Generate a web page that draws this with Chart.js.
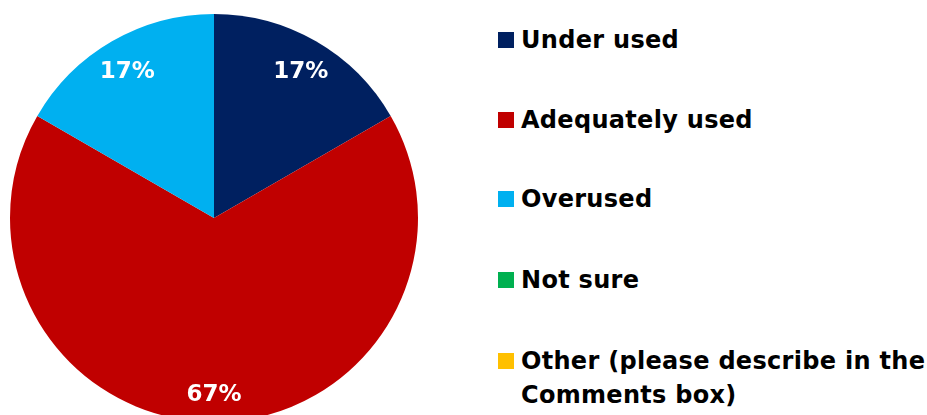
<!DOCTYPE html>
<html>
<head>
<meta charset="utf-8">
<script src="https://cdn.jsdelivr.net/npm/chart.js@4"></script>
<style>
  html, body { margin: 0; padding: 0; width: 927px; height: 415px; overflow: hidden; background: #fff; }
  #pieBox { position: absolute; left: 0; top: 0; width: 428px; height: 436px; }
  #legend { position: absolute; left: 498px; top: 0; font-family: "DejaVu Sans", sans-serif; font-weight: bold; font-size: 24px; letter-spacing: 0.3px; color: #000; }
  .item { position: absolute; left: 0; width: 429px; display: flex; align-items: flex-start; line-height: 34px; }
  .box { width: 16px; height: 16px; margin-top: 9px; margin-right: 7px; flex: none; }
</style>
</head>
<body>
<div id="pieBox"><canvas id="chart"></canvas></div>
<div id="legend"></div>
<script>
const categories = ['Under used', 'Adequately used', 'Overused', 'Not sure', 'Other (please describe in the Comments box)'];
const percents = [16.67, 66.67, 16.67, 0, 0];
const colors = ['#002060', '#C00000', '#00B0F0', '#00B050', '#FFC000'];
const legendTops = [23, 103, 182, 263, 344];

document.addEventListener('DOMContentLoaded', function () {
  let legend = document.getElementById('legend');
  categories.forEach((name, i) => {
    let item = document.createElement('div');
    item.className = 'item';
    item.style.top = legendTops[i] + 'px';
    let box = document.createElement('div');
    box.className = 'box';
    box.style.background = colors[i];
    let text = document.createElement('div');
    text.textContent = name;
    item.appendChild(box);
    item.appendChild(text);
    legend.appendChild(item);
  });

  const sliceLabels = {
    id: 'sliceLabels',
    afterDatasetsDraw(chart) {
      let ctx = chart.ctx;
      let meta = chart.getDatasetMeta(0);
      ctx.save();
      ctx.fillStyle = '#fff';
      ctx.font = 'bold 23px "DejaVu Sans", sans-serif';
      ctx.textAlign = 'center';
      ctx.textBaseline = 'middle';
      meta.data.forEach((arc, i) => {
        if (!percents[i]) return;
        let mid = (arc.startAngle + arc.endAngle) / 2;
        let r = arc.outerRadius * 0.85;
        let x = arc.x + Math.cos(mid) * r;
        let y = arc.y + Math.sin(mid) * r + 4;
        ctx.fillText(Math.round(percents[i]) + '%', x, y);
      });
      ctx.restore();
    }
  };

  new Chart(document.getElementById('chart'), {
    type: 'pie',
    data: {
      labels: categories,
      datasets: [{
        data: percents,
        backgroundColor: colors,
        borderWidth: 0
      }]
    },
    options: {
      responsive: true,
      maintainAspectRatio: false,
      animation: false,
      layout: { padding: { left: 10, top: 14, right: 10, bottom: 14 } },
      plugins: { legend: { display: false }, tooltip: { enabled: false } }
    },
    plugins: [sliceLabels]
  });
});
</script>
</body>
</html>
